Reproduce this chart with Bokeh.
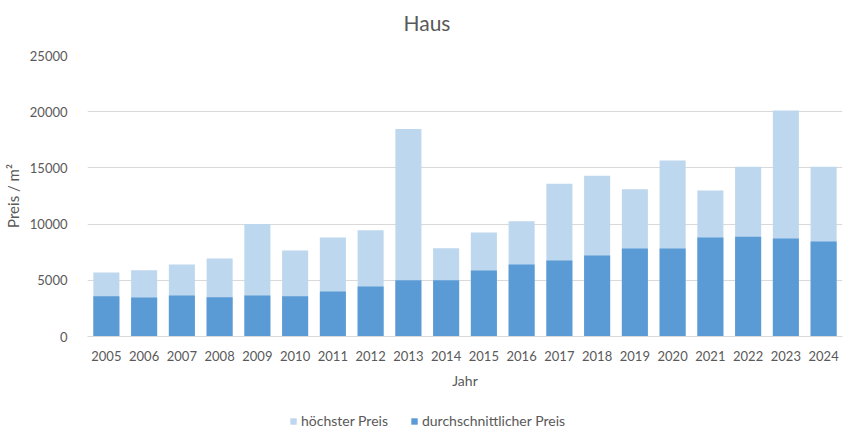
from bokeh.plotting import figure
from bokeh.layouts import column
from bokeh.models import FactorRange, Range1d, Legend, LegendItem, ColumnDataSource, FixedTicker
from bokeh.embed import file_html
from bokeh.resources import INLINE

years = [str(y) for y in range(2005, 2025)]
hoechster_preis = [5700, 5900, 6400, 6950, 10000, 7650, 8800, 9450, 18450, 7850,
                   9250, 10250, 13600, 14300, 13100, 15650, 13000, 15100, 20100, 15100]
durchschnittlicher_preis = [3580, 3480, 3650, 3500, 3650, 3570, 4000, 4450, 5000, 5000,
                            5870, 6400, 6760, 7200, 7830, 7830, 8800, 8880, 8720, 8450]
y_ticks = [0, 5000, 10000, 15000, 20000, 25000]

FONT = "Lato"
TXT = "#595959"
LIGHT = "#BDD7EE"
DARK = "#5B9BD5"
W = 848
LEFT = 86
RIGHT = 6

src = ColumnDataSource(dict(x=years, hi=hoechster_preis, avg=durchschnittlicher_preis))
xr = FactorRange(*years)

# title strip
t = figure(width=W, height=40, x_range=xr, y_range=Range1d(0, 1),
           output_backend="svg", toolbar_location=None,
           x_axis_location=None, y_axis_location=None, title="Haus",
           min_border_left=LEFT, min_border_right=RIGHT, min_border_top=35, min_border_bottom=0)
t.outline_line_color = None
t.xgrid.grid_line_color = None
t.ygrid.grid_line_color = None
t.title.align = "left"
t.title.offset = 316
t.title.text_font = FONT
t.title.text_font_size = "21px"
t.title.text_font_style = "normal"
t.title.text_color = TXT
t.title.standoff = 2

# main chart
p = figure(width=W, height=356, x_range=xr, y_range=Range1d(0, 25000),
           output_backend="svg", toolbar_location=None,
           min_border_left=LEFT, min_border_right=RIGHT, min_border_top=15, min_border_bottom=60)
p.outline_line_color = None

p.vbar(x="x", top="hi", width=0.69, source=src, fill_color=LIGHT, line_color=None)
p.vbar(x="x", top="avg", width=0.69, source=src, fill_color=DARK, line_color=None)

p.xgrid.grid_line_color = None
p.ygrid.grid_line_color = "#d9d9d9"
p.ygrid.grid_line_width = 1
p.yaxis.ticker = FixedTicker(ticks=y_ticks)

p.yaxis.axis_line_color = None
p.yaxis.major_tick_line_color = None
p.yaxis.minor_tick_line_color = None
p.yaxis.major_label_standoff = 14
p.yaxis.major_label_text_font = FONT
p.yaxis.major_label_text_font_size = "13px"
p.yaxis.major_label_text_color = TXT
p.yaxis.axis_label = "Preis / m²"
p.yaxis.axis_label_text_font = FONT
p.yaxis.axis_label_text_font_size = "15px"
p.yaxis.axis_label_text_font_style = "normal"
p.yaxis.axis_label_text_color = TXT
p.yaxis.axis_label_standoff = 5

p.xaxis.axis_line_color = "#d9d9d9"
p.xaxis.major_tick_line_color = None
p.xaxis.minor_tick_line_color = None
p.xaxis.major_label_standoff = 8
p.xaxis.major_label_text_font = FONT
p.xaxis.major_label_text_font_size = "13px"
p.xaxis.major_label_text_color = TXT
p.xaxis.axis_label = "Jahr"
p.xaxis.axis_label_text_font = FONT
p.xaxis.axis_label_text_font_size = "14px"
p.xaxis.axis_label_text_font_style = "normal"
p.xaxis.axis_label_text_color = TXT
p.xaxis.axis_label_standoff = 8

# legend strip below the chart (zero-height bars, out of view, only for the swatches)
swatch = ColumnDataSource(dict(x=[years[0]], top=[0]))
q = figure(width=W, height=47, x_range=xr, y_range=Range1d(1, 2),
           output_backend="svg", toolbar_location=None,
           x_axis_location=None, y_axis_location=None,
           min_border_left=LEFT, min_border_right=RIGHT, min_border_top=0, min_border_bottom=0)
q.outline_line_color = None
q.xgrid.grid_line_color = None
q.ygrid.grid_line_color = None
l_hi = q.vbar(x="x", top="top", width=0.69, source=swatch, fill_color=LIGHT, line_color=None)
l_avg = q.vbar(x="x", top="top", width=0.69, source=swatch, fill_color=DARK, line_color=None)

legend = Legend(items=[LegendItem(label="höchster Preis", renderers=[l_hi]),
                       LegendItem(label="durchschnittlicher Preis", renderers=[l_avg])],
                orientation="horizontal", location=(202, 14))
legend.border_line_color = None
legend.background_fill_alpha = 0
legend.label_text_font = FONT
legend.label_text_font_size = "14px"
legend.label_text_color = TXT
legend.label_height = 12
legend.glyph_width = 8
legend.glyph_height = 8
legend.spacing = 22
legend.label_standoff = 4
legend.margin = 0
legend.padding = 0
q.add_layout(legend, "center")

layout = column(t, p, q, spacing=0)
open("out.html", "w").write(file_html(layout, INLINE))
